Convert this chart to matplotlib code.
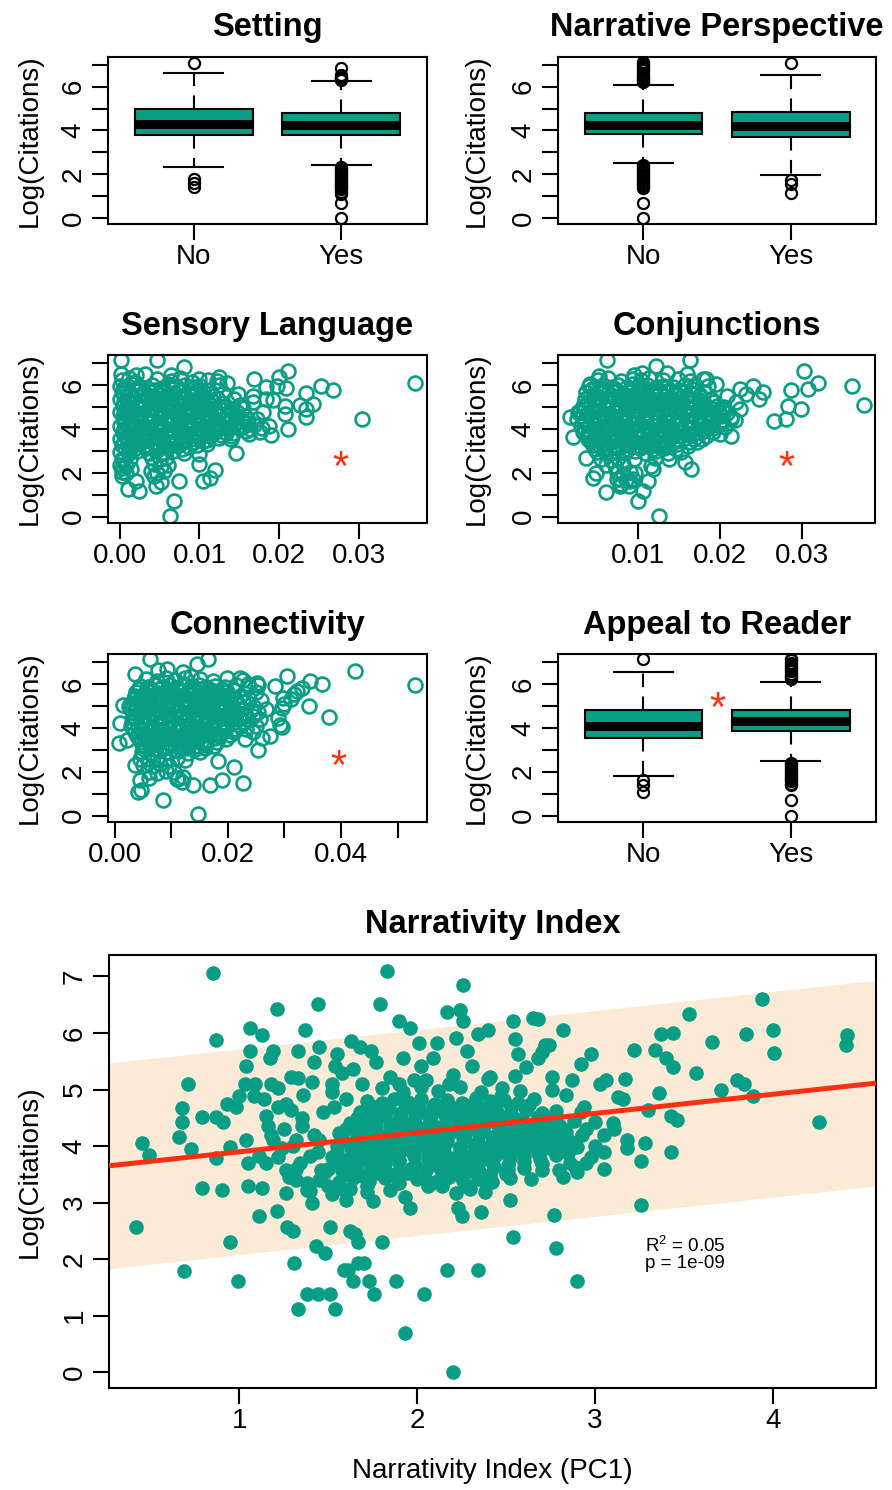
import matplotlib
matplotlib.use('Agg')
import matplotlib.pyplot as plt
import numpy as np

plt.rcParams['font.family'] = ['Liberation Sans', 'DejaVu Sans']
plt.rcParams['mathtext.fontset'] = 'custom'
plt.rcParams['mathtext.rm'] = 'Liberation Sans'

TEAL = '#089E86'
RED = '#FF2F12'
BAND = '#FBEBD6'

# ---------------- data ----------------
box_labels = ['No', 'Yes']

setting_stats = [
    dict(med=4.30, q1=3.78, q3=4.98, whislo=2.33, whishi=6.65,
         fliers=[7.07, 1.79, 1.61, 1.39]),
    dict(med=4.25, q1=3.78, q3=4.78, whislo=2.40, whishi=6.26,
         fliers=[6.85, 6.52, 6.44, 6.38, 6.33, 6.29, 2.32, 2.25, 2.18, 2.10, 2.03, 1.95,
                 1.87, 1.79, 1.70, 1.61, 1.52, 1.45, 1.39, 1.30, 1.20, 1.10, 0.69, 0.0]),
]
perspective_stats = [
    dict(med=4.26, q1=3.83, q3=4.79, whislo=2.51, whishi=6.08,
         fliers=[7.12, 7.05, 6.95, 6.85, 6.75, 6.65, 6.55, 6.45, 6.37, 6.30, 6.22,
                 2.42, 2.35, 2.27, 2.19, 2.10, 2.01, 1.92, 1.83, 1.74, 1.65, 1.56, 1.46, 1.38,
                 0.69, 0.0]),
    dict(med=4.22, q1=3.68, q3=4.83, whislo=1.98, whishi=6.53,
         fliers=[7.10, 1.72, 1.56, 1.14]),
]
appeal_stats = [
    dict(med=4.09, q1=3.52, q3=4.82, whislo=1.81, whishi=6.55,
         fliers=[7.12, 1.61, 1.42, 1.07]),
    dict(med=4.32, q1=3.86, q3=4.79, whislo=2.50, whishi=6.10,
         fliers=[7.15, 7.07, 6.97, 6.87, 6.77, 6.67, 6.57, 6.47, 6.38, 6.30, 6.22,
                 2.42, 2.35, 2.27, 2.19, 2.10, 2.01, 1.92, 1.83, 1.74, 1.65, 1.56, 1.46, 1.38,
                 0.72, 0.0]),
]

sensory_pts = [
    (0.0002, 6.22), (0.0011, 6.31), (0.0019, 6.15), (0.0047, 6.25), (0.0064, 6.18), (0.0076, 6.30), (0.0090, 6.12), (0.0111, 6.24), (0.0122, 6.16),
    (0.0000, 5.95), (0.0008, 5.88), (0.0017, 6.02), (0.0027, 5.91), (0.0040, 5.98), (0.0053, 5.86), (0.0060, 6.04), (0.0071, 5.93), (0.0082, 5.99), (0.0094, 5.90), (0.0101, 5.97), (0.0125, 5.99),
    (0.0006, 5.80), (0.0022, 5.78), (0.0035, 5.83), (0.0044, 5.76), (0.0065, 5.81), (0.0079, 5.79), (0.0090, 5.84), (0.0112, 5.77),
    (0.0003, 5.66), (0.0013, 5.60), (0.0020, 5.71), (0.0031, 5.63), (0.0038, 5.68), (0.0049, 5.58), (0.0056, 5.69), (0.0067, 5.64), (0.0074, 5.72), (0.0085, 5.61), (0.0096, 5.66), (0.0105, 5.70), (0.0130, 5.62),
    (0.0005, 5.50), (0.0016, 5.47), (0.0026, 5.53), (0.0040, 5.49), (0.0051, 5.52), (0.0062, 5.46), (0.0078, 5.51), (0.0091, 5.48), (0.0102, 5.54), (0.0117, 5.49),
    (0.0000, 5.35), (0.0010, 5.30), (0.0017, 5.39), (0.0028, 5.33), (0.0035, 5.37), (0.0046, 5.29), (0.0053, 5.40), (0.0064, 5.34), (0.0071, 5.31), (0.0082, 5.38), (0.0089, 5.32), (0.0100, 5.36), (0.0109, 5.30), (0.0122, 5.39), (0.0143, 5.34),
    (0.0005, 5.20), (0.0014, 5.17), (0.0025, 5.23), (0.0039, 5.18), (0.0050, 5.22), (0.0061, 5.16), (0.0075, 5.21), (0.0087, 5.19), (0.0097, 5.24), (0.0106, 5.18), (0.0117, 5.21), (0.0129, 5.17),
    (0.0004, 5.06), (0.0012, 5.01), (0.0023, 5.09), (0.0030, 5.04), (0.0041, 5.00), (0.0048, 5.08), (0.0059, 5.02), (0.0066, 5.10), (0.0077, 5.05), (0.0084, 4.99), (0.0095, 5.07), (0.0102, 5.03), (0.0114, 5.09), (0.0123, 5.04), (0.0134, 5.01), (0.0151, 5.08),
    (0.0006, 4.90), (0.0015, 4.87), (0.0026, 4.93), (0.0040, 4.88), (0.0051, 4.92), (0.0061, 4.86), (0.0074, 4.91), (0.0087, 4.89), (0.0097, 4.94), (0.0110, 4.88), (0.0120, 4.91), (0.0131, 4.87), (0.0141, 4.92),
    (0.0000, 4.75), (0.0010, 4.71), (0.0017, 4.79), (0.0028, 4.74), (0.0035, 4.69), (0.0046, 4.78), (0.0053, 4.72), (0.0064, 4.80), (0.0071, 4.76), (0.0082, 4.70), (0.0089, 4.75), (0.0100, 4.79), (0.0107, 4.71), (0.0118, 4.77), (0.0125, 4.73), (0.0136, 4.69), (0.0147, 4.78),
    (0.0004, 4.60), (0.0015, 4.57), (0.0026, 4.63), (0.0038, 4.58), (0.0051, 4.62), (0.0062, 4.56), (0.0073, 4.61), (0.0087, 4.59), (0.0098, 4.64), (0.0110, 4.58), (0.0123, 4.61), (0.0134, 4.57), (0.0145, 4.62), (0.0157, 4.58),
    (0.0005, 4.45), (0.0013, 4.41), (0.0024, 4.49), (0.0031, 4.43), (0.0042, 4.40), (0.0049, 4.48), (0.0060, 4.42), (0.0067, 4.50), (0.0078, 4.46), (0.0085, 4.39), (0.0096, 4.45), (0.0103, 4.49), (0.0114, 4.41), (0.0121, 4.47), (0.0132, 4.43), (0.0139, 4.40), (0.0152, 4.48), (0.0161, 4.42),
    (0.0005, 4.30), (0.0014, 4.27), (0.0025, 4.33), (0.0037, 4.28), (0.0050, 4.32), (0.0062, 4.26), (0.0075, 4.31), (0.0086, 4.29), (0.0098, 4.34), (0.0109, 4.28), (0.0121, 4.31), (0.0133, 4.27), (0.0147, 4.32), (0.0160, 4.28),
    (0.0000, 4.15), (0.0010, 4.11), (0.0017, 4.19), (0.0028, 4.13), (0.0035, 4.10), (0.0046, 4.18), (0.0053, 4.12), (0.0064, 4.20), (0.0071, 4.16), (0.0082, 4.09), (0.0089, 4.15), (0.0100, 4.19), (0.0107, 4.11), (0.0118, 4.17), (0.0125, 4.13), (0.0136, 4.10), (0.0143, 4.18), (0.0156, 4.12), (0.0169, 4.16),
    (0.0005, 4.00), (0.0016, 3.97), (0.0026, 4.03), (0.0038, 3.98), (0.0050, 4.02), (0.0062, 3.96), (0.0074, 4.01), (0.0087, 3.99), (0.0098, 4.04), (0.0111, 3.98), (0.0123, 4.01), (0.0136, 3.97), (0.0150, 4.02), (0.0163, 3.98),
    (0.0004, 3.85), (0.0012, 3.81), (0.0023, 3.89), (0.0030, 3.83), (0.0041, 3.80), (0.0048, 3.88), (0.0059, 3.82), (0.0066, 3.90), (0.0077, 3.86), (0.0084, 3.79), (0.0095, 3.85), (0.0102, 3.89), (0.0113, 3.81), (0.0120, 3.87), (0.0133, 3.83), (0.0142, 3.80), (0.0159, 3.88),
    (0.0005, 3.70), (0.0016, 3.67), (0.0027, 3.73), (0.0039, 3.68), (0.0051, 3.72), (0.0062, 3.66), (0.0076, 3.71), (0.0088, 3.69), (0.0099, 3.74), (0.0113, 3.68), (0.0127, 3.71), (0.0141, 3.67),
    (0.0000, 3.55), (0.0010, 3.51), (0.0017, 3.59), (0.0028, 3.53), (0.0035, 3.50), (0.0046, 3.58), (0.0053, 3.52), (0.0064, 3.60), (0.0071, 3.56), (0.0082, 3.49), (0.0089, 3.55), (0.0101, 3.59), (0.0110, 3.51), (0.0124, 3.57),
    (0.0005, 3.40), (0.0017, 3.37), (0.0030, 3.43), (0.0042, 3.38), (0.0054, 3.42), (0.0066, 3.36), (0.0079, 3.41), (0.0093, 3.39), (0.0105, 3.44),
    (0.0003, 3.25), (0.0013, 3.21), (0.0020, 3.29), (0.0031, 3.23), (0.0038, 3.20), (0.0049, 3.28), (0.0056, 3.22), (0.0067, 3.30), (0.0074, 3.26), (0.0087, 3.19), (0.0097, 3.25), (0.0109, 3.29),
    (0.0006, 3.10), (0.0018, 3.07), (0.0033, 3.13), (0.0046, 3.08), (0.0060, 3.12), (0.0078, 3.06),
    (0.0000, 2.95), (0.0011, 2.90), (0.0021, 2.99), (0.0036, 2.92), (0.0045, 2.98), (0.0056, 2.89), (0.0067, 2.97), (0.0081, 2.91),
    (0.0002, 2.65), (0.0013, 2.61), (0.0040, 2.69), (0.0050, 2.62), (0.0058, 2.67),
    (0.0000, 2.35), (0.0008, 2.30), (0.0043, 2.39), (0.0052, 2.32), (0.0061, 2.37),
    (0.0003, 2.05), (0.0046, 2.01), (0.0055, 2.09),
    (0.0371, 6.07), (0.0304, 4.45), (0.0268, 5.79), (0.0253, 5.97), (0.0243, 5.13), (0.0234, 5.63), (0.0234, 4.90), (0.0234, 4.52),
    (0.0226, 5.09), (0.0211, 6.65), (0.0211, 3.99), (0.0209, 5.85), (0.0207, 5.05), (0.0207, 4.67), (0.0200, 6.35), (0.0197, 5.97),
    (0.0188, 4.14), (0.0184, 5.89), (0.0184, 5.36), (0.0180, 4.75), (0.0176, 3.84), (0.0169, 6.27), (0.0167, 5.51), (0.0167, 5.21),
    (0.0146, 2.92), (0.0119, 2.13), (0.0113, 1.78), (0.0104, 1.63), (0.0100, 2.39), (0.0099, 2.85), (0.0081, 6.80), (0.0074, 1.63),
    (0.0068, 0.72), (0.0063, 0.03), (0.0060, 5.97), (0.0047, 7.11), (0.0052, 1.58), (0.0043, 1.86), (0.0045, 1.40), (0.0039, 2.09),
    (0.0033, 3.53), (0.0031, 6.50), (0.0024, 1.17), (0.0020, 1.63), (0.0014, 2.16), (0.0010, 1.25), (0.0005, 2.62), (0.0001, 7.11),
    (0.0003, 1.86), (0.0007, 2.00), (0.0001, 6.50), (0.0155, 4.95), (0.0162, 3.75), (0.0172, 4.45), (0.0178, 4.02), (0.0190, 3.70),
    (0.0193, 5.30), (0.0140, 3.55), (0.0148, 5.60), (0.0135, 6.10), (0.0125, 6.35), (0.0100, 6.25), (0.0064, 6.45), (0.0020, 6.45),
    (0.0005, 5.85), (0.0011, 3.05), (0.0002, 2.20),
]

conjunction_pts = [
    (0.0051, 6.24), (0.0063, 6.30), (0.0080, 6.18), (0.0094, 6.27), (0.0104, 6.21), (0.0114, 6.33), (0.0130, 6.20), (0.0149, 6.26), (0.0164, 6.16), (0.0179, 6.29),
    (0.0040, 5.95), (0.0049, 5.89), (0.0058, 6.01), (0.0068, 5.92), (0.0076, 5.98), (0.0086, 5.87), (0.0093, 6.03), (0.0103, 5.93), (0.0111, 5.99), (0.0122, 5.90), (0.0130, 5.97), (0.0143, 5.91), (0.0157, 6.00), (0.0171, 5.93), (0.0186, 5.97),
    (0.0044, 5.80), (0.0060, 5.78), (0.0072, 5.83), (0.0089, 5.76), (0.0101, 5.81), (0.0116, 5.79), (0.0133, 5.84), (0.0150, 5.77), (0.0166, 5.82),
    (0.0037, 5.66), (0.0046, 5.60), (0.0055, 5.71), (0.0064, 5.63), (0.0073, 5.68), (0.0082, 5.58), (0.0091, 5.69), (0.0100, 5.64), (0.0109, 5.72), (0.0118, 5.61), (0.0127, 5.66), (0.0136, 5.70), (0.0146, 5.62), (0.0156, 5.68), (0.0167, 5.60), (0.0181, 5.66),
    (0.0041, 5.50), (0.0053, 5.47), (0.0067, 5.53), (0.0079, 5.49), (0.0094, 5.52), (0.0106, 5.46), (0.0120, 5.51), (0.0132, 5.48), (0.0147, 5.54), (0.0160, 5.49), (0.0176, 5.52),
    (0.0036, 5.35), (0.0045, 5.30), (0.0054, 5.39), (0.0063, 5.33), (0.0072, 5.37), (0.0081, 5.29), (0.0090, 5.40), (0.0099, 5.34), (0.0108, 5.31), (0.0117, 5.38), (0.0126, 5.32), (0.0135, 5.36), (0.0144, 5.30), (0.0153, 5.39), (0.0163, 5.34), (0.0174, 5.31), (0.0189, 5.37),
    (0.0039, 5.20), (0.0050, 5.17), (0.0064, 5.23), (0.0076, 5.18), (0.0089, 5.22), (0.0102, 5.16), (0.0115, 5.21), (0.0128, 5.19), (0.0140, 5.24), (0.0154, 5.18), (0.0167, 5.21), (0.0180, 5.17), (0.0193, 5.22),
    (0.0033, 5.06), (0.0042, 5.01), (0.0051, 5.09), (0.0060, 5.04), (0.0069, 5.00), (0.0078, 5.08), (0.0087, 5.02), (0.0096, 5.10), (0.0105, 5.05), (0.0114, 4.99), (0.0123, 5.07), (0.0132, 5.03), (0.0141, 5.09), (0.0150, 5.04), (0.0160, 5.01), (0.0170, 5.08), (0.0182, 5.03), (0.0196, 5.06),
    (0.0036, 4.90), (0.0047, 4.87), (0.0061, 4.93), (0.0073, 4.88), (0.0086, 4.92), (0.0099, 4.86), (0.0112, 4.91), (0.0125, 4.89), (0.0137, 4.94), (0.0151, 4.88), (0.0164, 4.91), (0.0177, 4.87), (0.0191, 4.92), (0.0203, 4.88),
    (0.0030, 4.75), (0.0039, 4.71), (0.0048, 4.79), (0.0057, 4.74), (0.0066, 4.69), (0.0075, 4.78), (0.0084, 4.72), (0.0093, 4.80), (0.0102, 4.76), (0.0111, 4.70), (0.0120, 4.75), (0.0129, 4.79), (0.0138, 4.71), (0.0147, 4.77), (0.0156, 4.73), (0.0165, 4.69), (0.0175, 4.78), (0.0186, 4.72), (0.0199, 4.76), (0.0209, 4.70),
    (0.0032, 4.60), (0.0044, 4.57), (0.0058, 4.63), (0.0070, 4.58), (0.0083, 4.62), (0.0096, 4.56), (0.0109, 4.61), (0.0122, 4.59), (0.0134, 4.64), (0.0148, 4.58), (0.0161, 4.61), (0.0174, 4.57), (0.0188, 4.62), (0.0201, 4.58),
    (0.0026, 4.45), (0.0035, 4.41), (0.0044, 4.49), (0.0053, 4.43), (0.0062, 4.40), (0.0071, 4.48), (0.0080, 4.42), (0.0089, 4.50), (0.0098, 4.46), (0.0107, 4.39), (0.0116, 4.45), (0.0125, 4.49), (0.0134, 4.41), (0.0143, 4.47), (0.0152, 4.43), (0.0161, 4.40), (0.0171, 4.48), (0.0181, 4.42), (0.0192, 4.46), (0.0203, 4.41), (0.0213, 4.47),
    (0.0034, 4.30), (0.0046, 4.27), (0.0059, 4.33), (0.0071, 4.28), (0.0084, 4.32), (0.0097, 4.26), (0.0110, 4.31), (0.0123, 4.29), (0.0135, 4.34), (0.0149, 4.28), (0.0162, 4.31), (0.0175, 4.27), (0.0189, 4.32), (0.0203, 4.28),
    (0.0031, 4.15), (0.0040, 4.11), (0.0049, 4.19), (0.0058, 4.13), (0.0067, 4.10), (0.0076, 4.18), (0.0085, 4.12), (0.0094, 4.20), (0.0103, 4.16), (0.0112, 4.09), (0.0121, 4.15), (0.0130, 4.19), (0.0139, 4.11), (0.0148, 4.17), (0.0157, 4.13), (0.0167, 4.10), (0.0177, 4.18), (0.0188, 4.12), (0.0199, 4.16),
    (0.0036, 4.00), (0.0048, 3.97), (0.0061, 4.03), (0.0073, 3.98), (0.0086, 4.02), (0.0099, 3.96), (0.0112, 4.01), (0.0125, 3.99), (0.0137, 4.04), (0.0151, 3.98), (0.0164, 4.01), (0.0177, 3.97), (0.0192, 4.02),
    (0.0033, 3.85), (0.0042, 3.81), (0.0051, 3.89), (0.0060, 3.83), (0.0069, 3.80), (0.0078, 3.88), (0.0087, 3.82), (0.0096, 3.90), (0.0105, 3.86), (0.0114, 3.79), (0.0123, 3.85), (0.0132, 3.89), (0.0141, 3.81), (0.0150, 3.87), (0.0160, 3.83), (0.0170, 3.80), (0.0181, 3.88), (0.0192, 3.84),
    (0.0038, 3.70), (0.0050, 3.67), (0.0063, 3.73), (0.0075, 3.68), (0.0088, 3.72), (0.0101, 3.66), (0.0114, 3.71), (0.0127, 3.69), (0.0139, 3.74), (0.0153, 3.68), (0.0166, 3.71), (0.0183, 3.67),
    (0.0039, 3.55), (0.0048, 3.51), (0.0057, 3.59), (0.0066, 3.53), (0.0075, 3.50), (0.0084, 3.58), (0.0093, 3.52), (0.0102, 3.60), (0.0111, 3.56), (0.0120, 3.49), (0.0129, 3.55), (0.0138, 3.59), (0.0148, 3.51), (0.0158, 3.57), (0.0168, 3.53), (0.0178, 3.56),
    (0.0043, 3.40), (0.0056, 3.37), (0.0069, 3.43), (0.0082, 3.38), (0.0095, 3.42), (0.0108, 3.36), (0.0121, 3.41), (0.0134, 3.39), (0.0146, 3.44), (0.0162, 3.38), (0.0172, 3.42),
    (0.0045, 3.25), (0.0054, 3.21), (0.0063, 3.29), (0.0072, 3.23), (0.0081, 3.20), (0.0090, 3.28), (0.0099, 3.22), (0.0108, 3.30), (0.0117, 3.26), (0.0127, 3.19), (0.0137, 3.25), (0.0148, 3.29), (0.0161, 3.22),
    (0.0048, 3.10), (0.0060, 3.07), (0.0075, 3.13), (0.0088, 3.08), (0.0103, 3.12), (0.0118, 3.06), (0.0132, 3.11), (0.0146, 3.09),
    (0.0050, 2.95), (0.0061, 2.90), (0.0072, 2.99), (0.0084, 2.92), (0.0096, 2.98), (0.0109, 2.89), (0.0122, 2.97), (0.0137, 2.91), (0.0152, 2.96),
    (0.0055, 2.65), (0.0067, 2.60), (0.0076, 2.69), (0.0095, 2.62), (0.0121, 2.67), (0.0138, 2.63),
    (0.0061, 2.35), (0.0072, 2.30), (0.0082, 2.39), (0.0116, 2.32),
    (0.0074, 2.02), (0.0082, 1.95), (0.0090, 2.05), (0.0097, 1.98),
    (0.0078, 1.72), (0.0086, 1.66), (0.0094, 1.74), (0.0080, 1.47), (0.0089, 1.42),
    (0.0376, 5.08), (0.0361, 5.94), (0.0320, 6.09), (0.0307, 5.82), (0.0303, 6.65), (0.0299, 4.90), (0.0287, 5.79), (0.0283, 5.05),
    (0.0281, 4.45), (0.0266, 4.37), (0.0252, 5.66), (0.0248, 5.36), (0.0240, 5.97), (0.0232, 5.59), (0.0224, 5.82), (0.0224, 4.90),
    (0.0220, 5.21), (0.0214, 3.69), (0.0214, 4.52), (0.0205, 4.98), (0.0200, 3.76), (0.0165, 2.16), (0.0157, 2.47), (0.0163, 7.11),
    (0.0160, 6.50), (0.0183, 6.27), (0.0126, 0.03), (0.0122, 6.88), (0.0118, 2.16), (0.0112, 1.63), (0.0106, 1.17), (0.0100, 0.72),
    (0.0090, 1.63), (0.0078, 1.40), (0.0074, 1.71), (0.0061, 1.13), (0.0062, 7.11), (0.0052, 6.42), (0.0049, 2.01), (0.0045, 1.78),
    (0.0041, 6.04), (0.0037, 2.69), (0.0017, 4.52), (0.0021, 3.61), (0.0027, 4.75), (0.0105, 6.55), (0.0095, 6.45), (0.0135, 6.55),
    (0.0195, 6.05), (0.0208, 5.50), (0.0218, 4.40), (0.0206, 4.10),
]

connectivity_pts = [
    (0.0055, 6.22), (0.0074, 6.15), (0.0091, 6.28), (0.0106, 6.18), (0.0124, 6.25), (0.0151, 6.20), (0.0174, 6.14), (0.0199, 6.26), (0.0226, 6.17),
    (0.0045, 5.90), (0.0058, 5.85), (0.0071, 5.96), (0.0084, 5.88), (0.0097, 5.93), (0.0110, 5.83), (0.0123, 5.98), (0.0136, 5.89), (0.0149, 5.94), (0.0162, 5.86), (0.0178, 5.92), (0.0195, 5.87), (0.0214, 5.95), (0.0238, 5.88), (0.0254, 5.93),
    (0.0042, 5.75), (0.0062, 5.72), (0.0080, 5.78), (0.0097, 5.71), (0.0113, 5.77), (0.0131, 5.73), (0.0150, 5.79), (0.0170, 5.72), (0.0190, 5.76), (0.0210, 5.74),
    (0.0038, 5.61), (0.0051, 5.56), (0.0064, 5.66), (0.0077, 5.58), (0.0090, 5.63), (0.0103, 5.54), (0.0116, 5.67), (0.0129, 5.59), (0.0142, 5.64), (0.0155, 5.56), (0.0168, 5.62), (0.0182, 5.57), (0.0199, 5.65), (0.0228, 5.58), (0.0249, 5.63),
    (0.0036, 5.45), (0.0053, 5.42), (0.0068, 5.48), (0.0084, 5.41), (0.0100, 5.47), (0.0116, 5.43), (0.0132, 5.49), (0.0148, 5.42), (0.0164, 5.46), (0.0181, 5.44), (0.0200, 5.48), (0.0222, 5.43),
    (0.0034, 5.30), (0.0047, 5.26), (0.0060, 5.35), (0.0073, 5.28), (0.0086, 5.33), (0.0099, 5.24), (0.0112, 5.36), (0.0125, 5.29), (0.0138, 5.34), (0.0151, 5.26), (0.0164, 5.32), (0.0177, 5.27), (0.0191, 5.35), (0.0213, 5.29), (0.0238, 5.33), (0.0259, 5.27),
    (0.0031, 5.15), (0.0046, 5.12), (0.0062, 5.18), (0.0078, 5.11), (0.0094, 5.17), (0.0110, 5.13), (0.0126, 5.19), (0.0142, 5.12), (0.0158, 5.16), (0.0174, 5.14), (0.0190, 5.18), (0.0206, 5.13), (0.0226, 5.16),
    (0.0026, 5.01), (0.0039, 4.96), (0.0052, 5.05), (0.0065, 4.98), (0.0078, 5.03), (0.0091, 4.94), (0.0104, 5.06), (0.0117, 4.99), (0.0130, 5.04), (0.0143, 4.96), (0.0156, 5.02), (0.0169, 4.97), (0.0182, 5.05), (0.0197, 4.99), (0.0219, 5.03), (0.0247, 4.97),
    (0.0028, 4.85), (0.0044, 4.82), (0.0060, 4.88), (0.0076, 4.81), (0.0092, 4.87), (0.0108, 4.83), (0.0124, 4.89), (0.0140, 4.82), (0.0156, 4.86), (0.0172, 4.84), (0.0188, 4.88), (0.0205, 4.83), (0.0224, 4.86), (0.0240, 4.82),
    (0.0030, 4.70), (0.0043, 4.66), (0.0056, 4.75), (0.0069, 4.68), (0.0082, 4.73), (0.0095, 4.64), (0.0108, 4.76), (0.0121, 4.69), (0.0134, 4.74), (0.0147, 4.66), (0.0160, 4.72), (0.0173, 4.67), (0.0186, 4.75), (0.0200, 4.69), (0.0215, 4.73), (0.0230, 4.66), (0.0254, 4.71),
    (0.0033, 4.55), (0.0049, 4.52), (0.0065, 4.58), (0.0081, 4.51), (0.0097, 4.57), (0.0113, 4.53), (0.0129, 4.59), (0.0145, 4.52), (0.0161, 4.56), (0.0177, 4.54), (0.0193, 4.58), (0.0210, 4.53), (0.0228, 4.56), (0.0245, 4.52),
    (0.0035, 4.40), (0.0048, 4.36), (0.0061, 4.45), (0.0074, 4.38), (0.0087, 4.43), (0.0100, 4.34), (0.0113, 4.46), (0.0126, 4.39), (0.0139, 4.44), (0.0152, 4.36), (0.0165, 4.42), (0.0178, 4.37), (0.0191, 4.45), (0.0205, 4.39), (0.0220, 4.43), (0.0236, 4.36), (0.0257, 4.41),
    (0.0031, 4.25), (0.0047, 4.22), (0.0063, 4.28), (0.0079, 4.21), (0.0095, 4.27), (0.0111, 4.23), (0.0127, 4.29), (0.0143, 4.22), (0.0159, 4.26), (0.0175, 4.24), (0.0191, 4.28), (0.0208, 4.23), (0.0228, 4.26),
    (0.0028, 4.10), (0.0041, 4.06), (0.0054, 4.15), (0.0067, 4.08), (0.0080, 4.13), (0.0093, 4.04), (0.0106, 4.16), (0.0119, 4.09), (0.0132, 4.14), (0.0145, 4.06), (0.0158, 4.12), (0.0171, 4.07), (0.0184, 4.15), (0.0199, 4.09), (0.0219, 4.13), (0.0249, 4.07),
    (0.0032, 3.95), (0.0048, 3.92), (0.0064, 3.98), (0.0080, 3.91), (0.0096, 3.97), (0.0112, 3.93), (0.0128, 3.99), (0.0144, 3.92), (0.0160, 3.96), (0.0176, 3.94), (0.0192, 3.98), (0.0210, 3.93), (0.0232, 3.96),
    (0.0035, 3.80), (0.0048, 3.76), (0.0061, 3.85), (0.0074, 3.78), (0.0087, 3.83), (0.0100, 3.74), (0.0113, 3.86), (0.0126, 3.79), (0.0139, 3.84), (0.0152, 3.76), (0.0165, 3.82), (0.0179, 3.77), (0.0194, 3.85), (0.0211, 3.79), (0.0244, 3.83),
    (0.0040, 3.65), (0.0056, 3.62), (0.0072, 3.68), (0.0088, 3.61), (0.0104, 3.67), (0.0120, 3.63), (0.0136, 3.69), (0.0152, 3.62), (0.0168, 3.66), (0.0185, 3.64), (0.0203, 3.68),
    (0.0045, 3.50), (0.0058, 3.46), (0.0071, 3.55), (0.0084, 3.48), (0.0097, 3.53), (0.0110, 3.44), (0.0123, 3.56), (0.0136, 3.49), (0.0149, 3.54), (0.0163, 3.46), (0.0178, 3.52), (0.0196, 3.47), (0.0231, 3.51),
    (0.0047, 3.35), (0.0063, 3.32), (0.0079, 3.38), (0.0095, 3.31), (0.0111, 3.37), (0.0127, 3.33), (0.0143, 3.39), (0.0160, 3.32), (0.0180, 3.36),
    (0.0050, 3.20), (0.0063, 3.16), (0.0076, 3.25), (0.0089, 3.18), (0.0102, 3.23), (0.0115, 3.14), (0.0128, 3.26), (0.0143, 3.19), (0.0159, 3.24), (0.0176, 3.17),
    (0.0052, 3.05), (0.0070, 3.02), (0.0088, 3.08), (0.0106, 3.01), (0.0124, 3.07), (0.0142, 3.03), (0.0160, 3.06),
    (0.0048, 2.90), (0.0064, 2.86), (0.0079, 2.95), (0.0095, 2.88), (0.0112, 2.93), (0.0130, 2.84), (0.0150, 2.91),
    (0.0045, 2.60), (0.0060, 2.56), (0.0075, 2.65), (0.0090, 2.58), (0.0110, 2.63), (0.0125, 2.55),
    (0.0050, 2.30), (0.0065, 2.26), (0.0080, 2.35), (0.0095, 2.28),
    (0.0060, 2.00), (0.0075, 1.96), (0.0090, 2.05), (0.0105, 1.98),
    (0.0060, 1.72), (0.0110, 1.68), (0.0120, 1.75),
    (0.0530, 5.97), (0.0425, 6.59), (0.0378, 4.50), (0.0366, 6.00), (0.0346, 6.12), (0.0343, 4.98), (0.0331, 5.82), (0.0322, 5.67),
    (0.0316, 5.52), (0.0305, 6.36), (0.0298, 5.37), (0.0295, 4.91), (0.0292, 4.15), (0.0284, 5.90), (0.0254, 3.00), (0.0260, 3.54),
    (0.0227, 1.48), (0.0210, 2.24), (0.0189, 1.63), (0.0183, 2.47), (0.0168, 1.40), (0.0164, 7.12), (0.0148, 0.06), (0.0139, 1.40),
    (0.0118, 1.55), (0.0112, 1.71), (0.0086, 0.72), (0.0062, 7.12), (0.0035, 6.43), (0.0047, 1.17), (0.0041, 1.10), (0.0044, 1.63),
    (0.0035, 2.32), (0.0009, 4.22), (0.0008, 3.31), (0.0015, 5.06), (0.0021, 3.46), (0.0145, 6.89), (0.0077, 6.61), (0.0092, 6.66),
    (0.0222, 6.28), (0.0236, 5.98), (0.0251, 6.05), (0.0295, 4.05), (0.0288, 4.45), (0.0275, 3.65), (0.0268, 4.85), (0.0300, 5.10),
    (0.0312, 5.30), (0.0120, 6.55), (0.0135, 6.35),
]

narrativity_pts = [
    (0.42, 2.57), (0.45, 4.06), (0.49, 3.84), (0.69, 1.79), (0.66, 4.16), (0.68, 4.43), (0.68, 4.68), (0.71, 5.09), (0.73, 3.94),
    (0.79, 4.51), (0.79, 3.26), (0.85, 7.07), (0.87, 5.88), (0.87, 3.78), (0.87, 4.51), (0.90, 3.22), (0.91, 4.43), (0.93, 4.75),
    (0.95, 2.30), (0.95, 3.98), (0.99, 1.61), (0.98, 4.69), (1.00, 4.89), (1.03, 5.09), (1.04, 5.42), (1.04, 4.10), (1.05, 3.70),
    (1.05, 3.29), (1.06, 6.09), (1.06, 5.69), (1.08, 4.89), (1.09, 5.09), (1.11, 2.77), (1.11, 3.83), (1.13, 5.96), (1.13, 3.26),
    (1.14, 4.83), (1.15, 4.53), (1.16, 4.36), (1.17, 5.56), (1.18, 5.09), (1.19, 4.10), (1.19, 5.69), (1.21, 6.42), (1.21, 2.85),
    (1.22, 4.69), (1.22, 5.03), (1.24, 3.96), (1.26, 3.57), (1.26, 3.17), (1.27, 2.57), (1.29, 5.23), (1.29, 4.63), (1.30, 2.50),
    (1.31, 1.94), (1.32, 4.10), (1.32, 3.40), (1.33, 1.11), (1.33, 5.69), (1.34, 3.70), (1.35, 4.36), (1.37, 6.06), (1.38, 1.39),
    (1.38, 3.23), (1.40, 3.83), (1.41, 5.13), (1.42, 5.49), (1.43, 2.24), (1.44, 6.52), (1.44, 1.39), (1.45, 5.76), (1.45, 4.10),
    (1.46, 3.57), (1.48, 2.10), (1.50, 3.30), (1.51, 1.39), (1.51, 2.57), (1.52, 5.09), (1.53, 4.69), (1.54, 5.42), (1.54, 1.11),
    (1.55, 5.62), (1.56, 4.23), (1.58, 3.70), (1.59, 1.81), (1.59, 3.23), (1.60, 4.84), (1.61, 1.81), (1.62, 2.50), (1.63, 5.85),
    (1.64, 5.36), (1.64, 1.61), (1.65, 2.44), (1.67, 1.94), (1.67, 2.30), (1.68, 5.76), (1.69, 5.09), (1.70, 1.94), (1.70, 4.50),
    (1.72, 3.30), (1.73, 1.61), (1.74, 5.69), (1.75, 3.03), (1.76, 1.39), (1.77, 5.49), (1.78, 4.63), (1.79, 6.52), (1.80, 2.30),
    (1.83, 7.10), (1.88, 1.61), (1.90, 6.22), (1.90, 5.09), (1.92, 5.56), (1.93, 0.70), (1.93, 3.10), (1.96, 6.09), (1.96, 2.90),
    (1.98, 5.16), (2.01, 5.82), (2.02, 5.42), (2.04, 1.39), (2.06, 3.30), (2.09, 5.56), (2.11, 5.82), (2.14, 3.30), (2.17, 1.81),
    (2.17, 6.37), (2.18, 5.09), (2.20, 0.01), (2.22, 5.92), (2.23, 2.90), (2.24, 6.40), (2.25, 2.77), (2.26, 6.85), (2.26, 6.22),
    (2.28, 3.30), (2.28, 5.69), (2.31, 5.42), (2.34, 1.81), (2.34, 5.98), (2.36, 2.83), (2.38, 3.37), (2.40, 6.06), (2.41, 5.23),
    (2.47, 4.89), (2.52, 3.05), (2.54, 6.22), (2.54, 2.40), (2.55, 5.89), (2.57, 5.62), (2.61, 5.39), (2.64, 3.42), (2.65, 6.27),
    (2.68, 6.25), (2.68, 5.56), (2.70, 5.66), (2.72, 5.79), (2.73, 4.00), (2.74, 5.79), (2.76, 5.23), (2.77, 2.78), (2.78, 2.20),
    (2.78, 4.36), (2.80, 3.57), (2.82, 6.06), (2.82, 4.03), (2.87, 5.16), (2.89, 3.63), (2.90, 1.61), (2.92, 5.46), (2.94, 4.69),
    (2.95, 3.70), (2.98, 5.62), (3.00, 4.43), (3.03, 5.09), (3.05, 3.90), (3.05, 3.60), (3.06, 5.16), (3.10, 4.40), (3.11, 4.30),
    (3.13, 4.86), (3.16, 4.83), (3.17, 5.19), (3.18, 4.10), (3.18, 3.96), (3.22, 5.70), (3.26, 2.95), (3.26, 3.73), (3.28, 4.06),
    (3.30, 4.63), (3.34, 5.70), (3.36, 4.93), (3.37, 5.98), (3.40, 5.56), (3.43, 4.53), (3.43, 3.90), (3.44, 5.39), (3.44, 6.00),
    (3.46, 4.46), (3.53, 6.33), (3.57, 5.29), (3.66, 5.84), (3.71, 4.99), (3.80, 5.16), (3.84, 5.09), (3.85, 5.98), (3.89, 4.89),
    (3.94, 6.61), (4.00, 6.06), (4.01, 5.64), (4.26, 4.42), (4.41, 5.79), (4.42, 5.97),
    (1.85, 5.22), (2.05, 5.16), (2.20, 5.25), (2.40, 5.18), (2.55, 5.24),
    (1.80, 5.02), (1.92, 4.96), (2.02, 5.05), (2.12, 4.98), (2.24, 5.04), (2.36, 4.95), (2.48, 5.03), (2.58, 4.97),
    (1.72, 4.80), (1.80, 4.76), (1.87, 4.84), (1.95, 4.78), (2.02, 4.83), (2.10, 4.75), (2.17, 4.82), (2.25, 4.77), (2.33, 4.85), (2.41, 4.79), (2.49, 4.81), (2.57, 4.76), (2.66, 4.83),
    (1.74, 4.70), (1.84, 4.68), (1.93, 4.72), (2.01, 4.67), (2.09, 4.71), (2.19, 4.69), (2.27, 4.73), (2.35, 4.68), (2.44, 4.71), (2.53, 4.69), (2.63, 4.72),
    (1.68, 4.60), (1.76, 4.56), (1.83, 4.64), (1.91, 4.58), (1.98, 4.63), (2.06, 4.55), (2.13, 4.62), (2.21, 4.57), (2.29, 4.65), (2.37, 4.59), (2.45, 4.61), (2.53, 4.56), (2.61, 4.63), (2.70, 4.58), (2.78, 4.62),
    (1.66, 4.50), (1.74, 4.47), (1.82, 4.53), (1.90, 4.48), (1.99, 4.52), (2.07, 4.46), (2.16, 4.51), (2.25, 4.49), (2.33, 4.54), (2.42, 4.48), (2.50, 4.51), (2.59, 4.47), (2.68, 4.52), (2.76, 4.48),
    (1.62, 4.40), (1.70, 4.36), (1.77, 4.44), (1.85, 4.38), (1.92, 4.43), (2.00, 4.35), (2.08, 4.42), (2.15, 4.37), (2.23, 4.45), (2.31, 4.39), (2.39, 4.41), (2.46, 4.36), (2.54, 4.43), (2.62, 4.38), (2.71, 4.42), (2.80, 4.37), (2.88, 4.44),
    (1.60, 4.30), (1.68, 4.27), (1.77, 4.33), (1.86, 4.28), (1.94, 4.32), (2.03, 4.26), (2.11, 4.31), (2.20, 4.29), (2.29, 4.34), (2.37, 4.28), (2.46, 4.31), (2.55, 4.27), (2.64, 4.32), (2.73, 4.28), (2.82, 4.31),
    (1.58, 4.20), (1.66, 4.16), (1.74, 4.24), (1.81, 4.18), (1.89, 4.23), (1.96, 4.15), (2.04, 4.22), (2.12, 4.17), (2.19, 4.25), (2.27, 4.19), (2.35, 4.21), (2.42, 4.16), (2.50, 4.23), (2.58, 4.18), (2.67, 4.22), (2.75, 4.17), (2.84, 4.24), (2.93, 4.19),
    (1.57, 4.10), (1.66, 4.07), (1.74, 4.13), (1.83, 4.08), (1.91, 4.12), (2.00, 4.06), (2.08, 4.11), (2.17, 4.09), (2.26, 4.14), (2.34, 4.08), (2.43, 4.11), (2.52, 4.07), (2.61, 4.12), (2.70, 4.08), (2.79, 4.11), (2.87, 4.07),
    (1.55, 4.00), (1.63, 3.96), (1.70, 4.04), (1.78, 3.98), (1.86, 4.03), (1.93, 3.95), (2.01, 4.02), (2.09, 3.97), (2.16, 4.05), (2.24, 3.99), (2.32, 4.01), (2.39, 3.96), (2.47, 4.03), (2.55, 3.98), (2.63, 4.02), (2.72, 3.97), (2.81, 4.04), (2.90, 3.99),
    (1.55, 3.90), (1.64, 3.87), (1.72, 3.93), (1.81, 3.88), (1.89, 3.92), (1.98, 3.86), (2.06, 3.91), (2.15, 3.89), (2.24, 3.94), (2.32, 3.88), (2.41, 3.91), (2.50, 3.87), (2.59, 3.92), (2.68, 3.88), (2.77, 3.91), (2.85, 3.87),
    (1.52, 3.80), (1.60, 3.76), (1.68, 3.84), (1.75, 3.78), (1.83, 3.83), (1.90, 3.75), (1.98, 3.82), (2.06, 3.77), (2.13, 3.85), (2.21, 3.79), (2.29, 3.81), (2.36, 3.76), (2.44, 3.83), (2.52, 3.78), (2.60, 3.82), (2.69, 3.77), (2.78, 3.84),
    (1.56, 3.70), (1.65, 3.67), (1.73, 3.73), (1.82, 3.68), (1.90, 3.72), (1.99, 3.66), (2.07, 3.71), (2.16, 3.69), (2.25, 3.74), (2.33, 3.68), (2.42, 3.71), (2.51, 3.67), (2.60, 3.72), (2.70, 3.68),
    (1.50, 3.60), (1.58, 3.56), (1.66, 3.64), (1.74, 3.58), (1.81, 3.63), (1.89, 3.55), (1.97, 3.62), (2.05, 3.57), (2.12, 3.65), (2.20, 3.59), (2.28, 3.61), (2.35, 3.56), (2.43, 3.63), (2.51, 3.58), (2.60, 3.62), (2.70, 3.57),
    (1.60, 3.50), (1.69, 3.47), (1.78, 3.53), (1.86, 3.48), (1.95, 3.52), (2.04, 3.46), (2.14, 3.51), (2.24, 3.49), (2.32, 3.54), (2.41, 3.48), (2.50, 3.51),
    (1.45, 3.40), (1.56, 3.36), (1.64, 3.44), (1.73, 3.38), (1.82, 3.43), (1.90, 3.35), (2.00, 3.42), (2.10, 3.37), (2.18, 3.45), (2.26, 3.39), (2.34, 3.41), (2.42, 3.36), (2.52, 3.43),
    (1.40, 3.20), (1.52, 3.16), (1.62, 3.24), (1.72, 3.18), (1.85, 3.23), (2.22, 3.17), (2.30, 3.24), (2.38, 3.19),
    (1.25, 4.30), (1.30, 4.00), (1.32, 3.60), (1.35, 4.50), (1.38, 3.35), (1.42, 4.20), (1.44, 3.90), (1.47, 4.60), (1.28, 3.45),
    (1.22, 3.80), (1.18, 4.20), (1.15, 3.70), (1.36, 4.90), (1.48, 3.55), (1.26, 4.75), (1.33, 5.20), (1.41, 3.00), (1.52, 4.95),
    (1.58, 5.30), (1.60, 3.05), (2.95, 4.30), (3.00, 4.00), (2.98, 3.80), (2.92, 4.60), (2.86, 3.70), (2.84, 4.90), (3.05, 4.20),
    (2.90, 3.55), (2.76, 5.00), (2.82, 3.45),
]

fit_intercept = 3.56
fit_slope = 0.339
pred_halfwidth = 1.82
fit_r2_text = r'$\mathregular{R^2}$ = 0.05'
fit_p_text = 'p = 1e-09'

star_positions = {
    'Sensory Language': (0.0277, 2.77),
    'Conjunctions': (0.0281, 2.77),
    'Connectivity': (0.0396, 2.77),
    'Appeal to Reader': (1.5, 5.41),
}

# ---------------- layout ----------------
W, H = 892, 1490
fig = plt.figure(figsize=(W / 100, H / 100), dpi=100)

LBL = 20
TTL = 23.5


def add_ax(l, t, r, b):
    return fig.add_axes([l / W, 1 - b / H, (r - l) / W, (b - t) / H])


def style(ax, ylabels):
    for s in ax.spines.values():
        s.set_linewidth(1.5)
    ax.set_ylim(-0.285, 7.36)
    ax.set_yticks(range(8))
    ax.set_yticklabels(ylabels)
    ax.tick_params(direction='out', length=11.5, width=1.5, labelsize=LBL)
    ax.tick_params(axis='x', pad=3)
    ax.tick_params(axis='y', labelrotation=90, pad=4)
    for lb in ax.get_yticklabels():
        lb.set_va('center')


def titles(ax_box, title, baseline, ylab_x):
    l, t, r, b = ax_box
    fig.text((l + r) / 2 / W, 1 - baseline / H, title, ha='center', va='baseline',
             fontsize=TTL, fontweight='bold')
    fig.text(ylab_x / W, 1 - (t + b) / 2 / H, 'Log(Citations)', rotation=90,
             ha='center', va='center', fontsize=LBL)


def star(ax, pos):
    F = 30
    ax.annotate('*', xy=pos, xytext=(0, -0.57 * F), textcoords='offset points',
                ha='center', va='baseline', color=RED, fontsize=F, zorder=5)


small_y = ['0', '', '2', '', '4', '', '6', '']


def boxpanel(box, stats, title, baseline, ylab_x):
    ax = add_ax(*box)
    ax.bxp(stats, positions=[1, 2], widths=0.8, patch_artist=True, showfliers=True,
           boxprops=dict(facecolor=TEAL, edgecolor='black', linewidth=1.5),
           medianprops=dict(color='black', linewidth=6.5, solid_capstyle='butt'),
           whiskerprops=dict(color='black', linewidth=1.5, linestyle=(0, (6.5, 4.5))),
           capprops=dict(color='black', linewidth=1.5),
           flierprops=dict(marker='o', markerfacecolor='none', markeredgecolor='black',
                           markersize=8, markeredgewidth=1.6))
    ax.set_xlim(0.42, 2.58)
    ax.set_xticks([1, 2])
    ax.set_xticklabels(box_labels)
    style(ax, small_y)
    titles(box, title, baseline, ylab_x)
    return ax


def scatpanel(box, pts, title, baseline, ylab_x, xlim, xticks, xticklabels):
    ax = add_ax(*box)
    xs = [p[0] for p in pts]
    ys = [p[1] for p in pts]
    ax.plot(xs, ys, linestyle='none', marker='o', markersize=10, markerfacecolor='none',
            markeredgecolor=TEAL, markeredgewidth=1.9)
    ax.set_xlim(*xlim)
    ax.set_xticks(xticks)
    ax.set_xticklabels(xticklabels)
    style(ax, small_y)
    titles(box, title, baseline, ylab_x)
    return ax


boxpanel((108, 57, 427, 224), setting_stats, 'Setting', 36, 30)
boxpanel((558, 57, 876, 224), perspective_stats, 'Narrative Perspective', 36, 477)

ax = scatpanel((108, 355, 427, 523), sensory_pts, 'Sensory Language', 335, 30,
               (-0.00150, 0.0386), [0, 0.01, 0.02, 0.03], ['0.00', '0.01', '0.02', '0.03'])
star(ax, star_positions['Sensory Language'])
ax = scatpanel((558, 355, 875, 523), conjunction_pts, 'Conjunctions', 335, 477,
               (0.00026, 0.0389), [0.01, 0.02, 0.03], ['0.01', '0.02', '0.03'])
star(ax, star_positions['Conjunctions'])
ax = scatpanel((108, 654, 427, 822), connectivity_pts, 'Connectivity', 634, 30,
               (-0.0012, 0.0552), [0, 0.01, 0.02, 0.03, 0.04, 0.05],
               ['0.00', '', '0.02', '', '0.04', ''])
star(ax, star_positions['Connectivity'])
ax = boxpanel((558, 654, 876, 822), appeal_stats, 'Appeal to Reader', 634, 477)
star(ax, star_positions['Appeal to Reader'])

# big panel
bbox = (109, 955, 876, 1388)
ax = add_ax(*bbox)
xlim = (0.267, 4.581)
ax.set_xlim(*xlim)
xx = np.array(xlim)
yy = fit_intercept + fit_slope * xx
ax.fill_between(xx, yy - pred_halfwidth, yy + pred_halfwidth, color=BAND, lw=0, zorder=1)
bx = [p[0] for p in narrativity_pts]
by = [p[1] for p in narrativity_pts]
ax.plot(bx, by, linestyle='none', marker='o', markersize=10.5, markerfacecolor=TEAL,
        markeredgecolor=TEAL, markeredgewidth=0, zorder=2)
ax.plot(xx, yy, color=RED, lw=3.6, zorder=3, solid_capstyle='butt')
ax.set_xticks([1, 2, 3, 4])
style(ax, [str(i) for i in range(8)])
ax.set_ylim(-0.28, 7.38)
ax.text(3.28, 2.23, fit_r2_text, fontsize=13.5, ha='left', va='center')
ax.text(3.28, 1.93, fit_p_text, fontsize=13.5, ha='left', va='center')
titles(bbox, 'Narrativity Index', 933, 30)
fig.text((109 + 876) / 2 / W, 1 - 1471 / H, 'Narrativity Index (PC1)', ha='center',
         va='center', fontsize=LBL)

fig.savefig('out.png', dpi=100)
